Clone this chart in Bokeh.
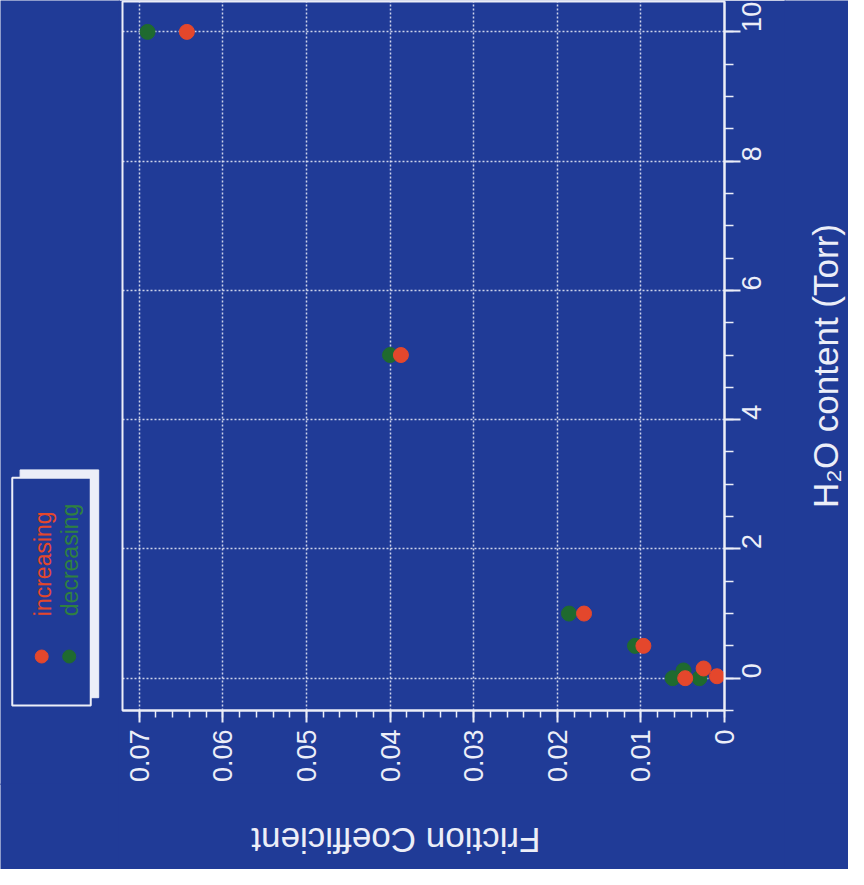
import math
from bokeh.plotting import figure
from bokeh.models import Range1d, SingleIntervalTicker, NumeralTickFormatter
from bokeh.layouts import row, column
from bokeh.core.properties import value
from bokeh.embed import file_html
from bokeh.resources import INLINE

# ---- data ----
series_names = ["increasing", "decreasing"]
inc_friction = [0.0643, 0.0387, 0.0168, 0.0097, 0.0047, 0.0025, 0.0009]
inc_h2o = [10.0, 5.0, 1.0, 0.5, 0.0, 0.15, 0.03]
dec_friction = [0.0690, 0.0400, 0.0186, 0.0107, 0.0062, 0.0049, 0.0030]
dec_h2o = [10.0, 5.0, 1.0, 0.5, 0.0, 0.12, 0.0]

x_title = "Friction Coefficient"
y_title = "H\u2082O content (Torr)"

# ---- style ----
BG = "#203b97"
FG = "#eceef8"
RED = "#e4472c"
GREEN = "#1f6a2f"
GREEN_TXT = "#2f8040"
FONT = "Liberation Sans"

TOP_H = 785      # height of the upper row (plot + tick labels)
LEFT_W = 120     # legend strip
MAIN_W = 666
OV = 2           # overlap of neighbouring strips (hides seams)
MB_TOP, MB_BOTTOM = 1, 75


def helper(width, height, x_range, y_range, margin=(0, 0, 0, 0)):
    f = figure(width=width, height=height, x_range=x_range, y_range=y_range,
               x_axis_type=None, y_axis_type=None,
               output_backend="svg", toolbar_location=None,
               min_border=0, frame_align=False, margin=margin,
               background_fill_color=BG, border_fill_color=None,
               outline_line_color=None)
    f.grid.visible = False
    return f


x_rng = Range1d(0.072, 0.0)
y_rng = Range1d(-0.5, 10.47)

main = figure(width=MAIN_W + OV, height=TOP_H, x_range=x_rng, y_range=y_rng,
              y_axis_location="right", x_axis_location="below",
              output_backend="svg", toolbar_location=None,
              margin=(0, 0, 0, -OV),
              min_border_left=2 + OV, min_border_right=62,
              min_border_top=MB_TOP, min_border_bottom=MB_BOTTOM,
              background_fill_color=BG, border_fill_color=BG,
              outline_line_color=FG, outline_line_width=2)

xt = SingleIntervalTicker(interval=0.01, num_minor_ticks=5)
yt = SingleIntervalTicker(interval=2, num_minor_ticks=4)

xa = main.xaxis[0]
xa.ticker = xt
xa.formatter = NumeralTickFormatter(format="0.[00]")
xa.major_label_orientation = math.pi / 2
xa.major_tick_out = 12
xa.major_tick_in = 0
xa.minor_tick_out = 7
xa.minor_tick_in = 0
xa.major_label_standoff = 7

ya = main.yaxis[0]
ya.ticker = yt
ya.major_label_orientation = math.pi / 2
ya.major_tick_out = 16
ya.major_tick_in = 0
ya.minor_tick_out = 9
ya.minor_tick_in = 0
ya.major_label_standoff = 11

for ax in (xa, ya):
    ax.axis_line_color = FG
    ax.axis_line_width = 2
    ax.major_tick_line_color = FG
    ax.major_tick_line_width = 2
    ax.minor_tick_line_color = FG
    ax.minor_tick_line_width = 1.5
    ax.major_label_text_color = FG
    ax.major_label_text_font = FONT
    ax.major_label_text_font_size = "27px"

main.xgrid[0].ticker = xt
main.ygrid[0].ticker = yt
for g in (main.xgrid[0], main.ygrid[0]):
    g.grid_line_color = FG
    g.grid_line_dash = "2 2"
    g.grid_line_width = 1.5
    g.grid_line_alpha = 0.85

main.scatter(dec_friction, dec_h2o, size=15, fill_color=GREEN, line_color=GREEN)
main.scatter(inc_friction, inc_h2o, size=15, fill_color=RED, line_color=RED)

# ---- legend strip (y measured upward from the bottom of the page) ----
lg = helper(LEFT_W, TOP_H, Range1d(0, 120), Range1d(84, 869))
lg.rect(x=[58.9], y=[285.7], width=78.6, height=227.8, fill_color=FG, line_color=FG)
lg.rect(x=[51.0], y=[277.8], width=78.5, height=227.8, fill_color=BG, line_color=FG, line_width=2)
lg.scatter(x=[41.2, 68.7], y=[213, 213], size=13, fill_color=[RED, GREEN], line_color=[RED, GREEN])
lg.text(x=[42.2, 69.7], y=[253.3, 253.3], text=series_names, angle=math.pi / 2,
        text_align="left", text_baseline="middle",
        text_font=value(FONT), text_font_size="23px", text_color=[RED, GREEN_TXT])

# ---- y title strip (H2O scale extended over the strip height) ----
rt = helper(62 + OV, TOP_H, Range1d(-OV, 62), Range1d(-1.6605, 10.4855),
            margin=(0, 0, 0, -OV))
rt.text(x=[39], y=[4.83], text=[y_title], angle=math.pi / 2,
        text_align="center", text_baseline="middle",
        text_font=value(FONT), text_font_size="35px", text_color=FG)

# ---- x title strip (friction scale extended over the strip width) ----
BOT_H = 84 + OV
bt = helper(MAIN_W + OV, BOT_H, Range1d(0.07248, -0.00742), Range1d(0, BOT_H),
            margin=(-OV, 0, 0, -OV))
bt.text(x=[0.0393], y=[29], text=[x_title], angle=math.pi,
        text_align="center", text_baseline="middle",
        text_font=value(FONT), text_font_size="35px", text_color=FG)

bl = helper(LEFT_W, BOT_H, Range1d(0, 1), Range1d(0, 1), margin=(-OV, 0, 0, 0))
br = helper(62 + OV, BOT_H, Range1d(0, 1), Range1d(0, 1), margin=(-OV, 0, 0, -OV))

layout = column(row(lg, main, rt), row(bl, bt, br))
open("out.html", "w").write(file_html(layout, INLINE))
